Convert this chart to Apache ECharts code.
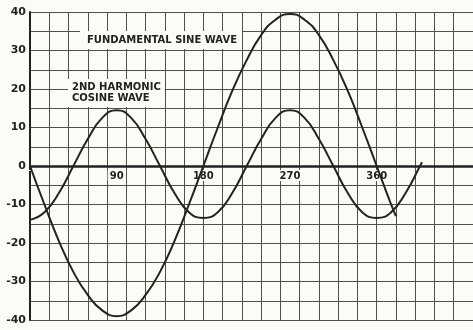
<!DOCTYPE html>
<html>
<head>
<meta charset="utf-8">
<script src="https://cdn.jsdelivr.net/npm/echarts@6/dist/echarts.min.js"></script>
<style>
html,body{margin:0;padding:0;background:#fcfcf6;}
#chart{width:473px;height:330px;}
</style>
</head>
<body>
<div id="chart"></div>
<script>
// Fundamental sine wave (degrees, amplitude)
const fundDeg = [0,15,30,45,60,75,90,105,120,135,150,165,180,195,210,225,240,255,270,285,300,315,330,345,360,375,380];
const fundVal = [0,-10,-19.5,-27.5,-33.5,-37.5,-39,-37.5,-33.5,-27.5,-19.5,-10,0,10,19.5,27.5,34,38,39.5,38,34,27.5,19.5,10,0,-10,-13];
// 2nd harmonic cosine wave
const harmDeg = [0,15,30,45,60,75,90,105,120,135,150,165,180,195,210,225,240,255,270,285,300,315,330,345,360,375,390,405,407];
const harmVal = [-14,-12,-7,0,7,12.5,14.5,12.5,7,0,-7,-12,-13.5,-12,-7,0,7,12.5,14.5,12.5,7,0,-7,-12,-13.5,-12,-7,0,1];
// tick labels
const xTickLabels = [90,180,270,360];
const yTickLabels = [40,30,20,10,0,-10,-20,-30,-40];
const labelFund = 'FUNDAMENTAL SINE WAVE';
const labelHarm = '2ND HARMONIC\nCOSINE WAVE';

const bg = '#fcfcf6';
const ink = '#222';
const gridCol = '#505048';
const font = 'DejaVu Sans';

const chart = echarts.init(document.getElementById('chart'));
chart.setOption({
  backgroundColor: bg,
  animation: false,
  grid: {left: 30, right: 0, top: 12, bottom: 10, outerBoundsMode: 'none', containLabel: false},
  xAxis: [
    {type: 'value', min: 0, max: 460, interval: 20, position: 'top',
     axisLine: {show: false, onZero: false}, axisTick: {show: false}, axisLabel: {show: false},
     splitLine: {show: true, lineStyle: {color: gridCol, width: 1}}},
    {type: 'value', min: 0, max: 460, interval: 90, position: 'bottom',
     axisLine: {show: false, onZero: false},
     axisTick: {show: false}, splitLine: {show: false},
     axisLabel: {show: true, margin: -150, color: ink, fontFamily: font, fontWeight: 'bold', fontSize: 10,
       backgroundColor: bg, padding: [1, 2, 0, 2],
       formatter: v => xTickLabels.indexOf(v) >= 0 ? String(v) : ''}}
  ],
  yAxis: {
    type: 'value', min: -40, max: 40, interval: 5,
    axisLine: {show: true, onZero: false, lineStyle: {color: ink, width: 2}},
    axisTick: {show: false},
    splitLine: {show: true, lineStyle: {color: gridCol, width: 1}},
    axisLabel: {margin: 4, color: ink, fontFamily: font, fontWeight: 'bold', fontSize: 11,
      formatter: v => yTickLabels.indexOf(v) >= 0 ? String(v) : ''}
  },
  series: [
    {type: 'line', xAxisIndex: 0, smooth: true, showSymbol: false,
     lineStyle: {color: ink, width: 2}, data: fundDeg.map((d, i) => [d, fundVal[i]]),
     markLine: {silent: true, symbol: 'none', label: {show: false},
       lineStyle: {color: ink, width: 2.5, type: 'solid'}, data: [{yAxis: 0}]}},
    {type: 'line', xAxisIndex: 0, smooth: true, showSymbol: false,
     lineStyle: {color: ink, width: 2}, data: harmDeg.map((d, i) => [d, harmVal[i]])}
  ],
  graphic: [
    {type: 'text', left: 80, top: 31, z: 100,
     style: {text: labelFund, fill: ink, font: 'bold 10px "DejaVu Sans"',
       backgroundColor: bg, padding: [4, 5, 4, 7]}},
    {type: 'text', left: 68, top: 79, z: 100,
     style: {text: labelHarm, fill: ink, font: 'bold 10px "DejaVu Sans"', align: 'center',
       lineHeight: 11, backgroundColor: bg, padding: [3, 4, 3, 4]}}
  ]
});
</script>
</body>
</html>
